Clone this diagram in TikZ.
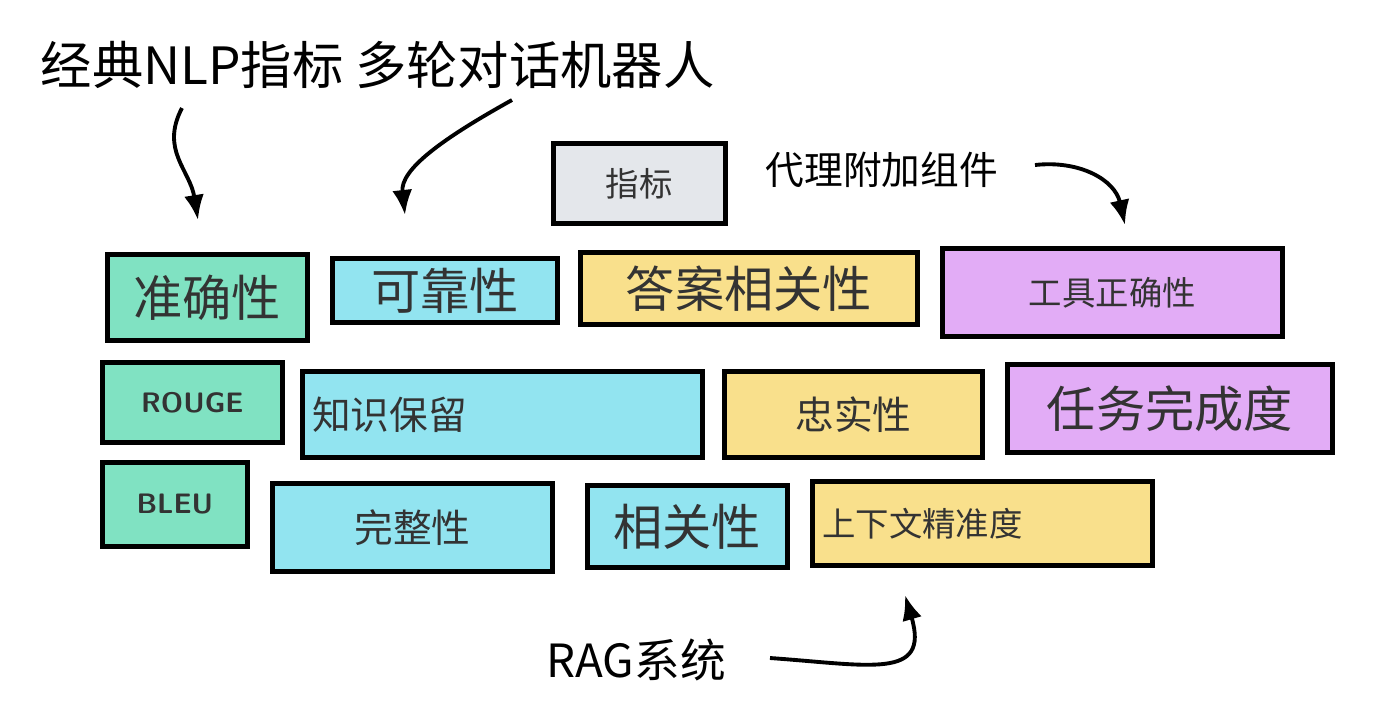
\documentclass[tikz,border=0pt]{standalone}
\usepackage{fontspec}
\setmainfont{Noto Sans CJK SC}
\usepackage{tikz}
\usetikzlibrary{arrows.meta,positioning,calc}

\definecolor{mgreen}{HTML}{80E2C2}
\definecolor{mcyan}{HTML}{92E4F0}
\definecolor{myellow}{HTML}{F9E08C}
\definecolor{mpurple}{HTML}{E2ACF6}
\definecolor{mgray}{HTML}{E4E7EB}

\tikzset{
    box/.style={draw, line width=1.3pt, fill=#1, inner sep=0pt, anchor=north west, align=center, text=black!80},
    big/.style={font=\fontsize{14}{16}\selectfont},
    mid/.style={font=\fontsize{11}{13}\selectfont},
    small/.style={font=\fontsize{9.5}{11}\selectfont},
    tag/.style={font=\fontsize{8}{9}\selectfont\bfseries\sffamily},
    curve/.style={line width=1.1pt, -{Latex[length=2.5mm,width=2mm]}}
}

\begin{document}
\begin{tikzpicture}[x=0.01cm,y=-0.01cm]
\useasboundingbox (0,0) rectangle (1400,720);
% titles
\node[font=\fontsize{14.6}{16}\selectfont, anchor=west, inner sep=0pt] (t1) at (40,65) {经典NLP指标 多轮对话机器人};
\node[mid, anchor=west, inner sep=0pt] (t2) at (765,170) {代理附加组件};
\node[font=\fontsize{13}{15}\selectfont, anchor=west, inner sep=0pt] (t3) at (546,660) {RAG系统};
\node[box=mgray, small, minimum width=1.72cm, minimum height=0.8cm] (m) at (551,141) {指标};
% row 1
\node[box=mgreen, big, minimum width=2cm, minimum height=0.86cm] (a1) at (105,252) {准确性};
\node[box=mcyan, big, minimum width=2.25cm, minimum height=0.64cm] (a2) at (330,256) {可靠性};
\node[box=myellow, big, minimum width=3.37cm, minimum height=0.72cm] (a3) at (578,250) {答案相关性};
\node[box=mpurple, small, minimum width=3.4cm, minimum height=0.88cm] (a4) at (940,246) {工具正确性};
% row 2
\node[box=mgreen, tag, minimum width=1.8cm, minimum height=0.8cm] (b1) at (100,360) {ROUGE};
\node[box=mcyan, mid, minimum width=4cm, minimum height=0.86cm, text width=3.8cm, align=left] (b2) at (300,369) {知识保留};
\node[box=myellow, mid, minimum width=2.58cm, minimum height=0.86cm] (b3) at (722,369) {忠实性};
\node[box=mpurple, big, minimum width=3.25cm, minimum height=0.88cm] (b4) at (1005,362) {任务完成度};
% row 3
\node[box=mgreen, tag, minimum width=1.45cm, minimum height=0.84cm] (c1) at (100,460) {BLEU};
\node[box=mcyan, mid, minimum width=2.8cm, minimum height=0.88cm] (c2) at (270,481) {完整性};
\node[box=mcyan, big, minimum width=2cm, minimum height=0.82cm] (c3) at (585,483) {相关性};
\node[box=myellow, small, minimum width=3.4cm, minimum height=0.84cm, text width=3.2cm, align=left] (c4) at (810,479) {上下文精准度};
% arrows
\coordinate (p1) at (182,108);
\coordinate (q1) at (198,220);
\draw[curve] (p1) .. controls (160,150) and (190,170) .. (q1);
\coordinate (p2) at (512,100);
\coordinate (q2) at (405,215);
\draw[curve] (p2) .. controls (440,140) and (400,170) .. (q2);
\coordinate (p3) at (1035,165);
\coordinate (q3) at (1125,225);
\draw[curve] (p3) .. controls (1080,160) and (1115,180) .. (q3);
\coordinate (p4) at (770,658);
\coordinate (q4) at (905,595);
\draw[curve] (p4) .. controls (870,665) and (930,680) .. (q4);
\end{tikzpicture}
\end{document}
